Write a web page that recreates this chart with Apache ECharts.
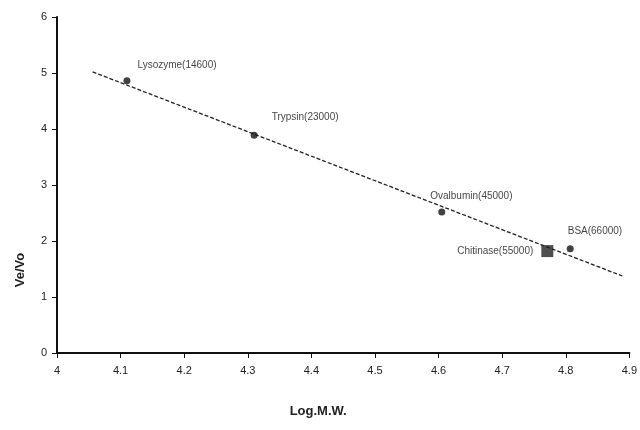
<!DOCTYPE html>
<html>
<head>
<meta charset="utf-8">
<script src="https://cdn.jsdelivr.net/npm/echarts@6/dist/echarts.min.js"></script>
<style>
html,body{margin:0;padding:0;background:#fff;}
#chart{width:640px;height:430px;}
</style>
</head>
<body>
<div id="chart"></div>
<script>
// 标准蛋白
var proteinNames = ["Lysozyme(14600)", "Trypsin(23000)", "Ovalbumin(45000)", "BSA(66000)"];
var logMW = [4.11, 4.31, 4.605, 4.807];
var veVo = [4.86, 3.89, 2.52, 1.86];
// 待测样品
var sampleName = ["Chitinase(55000)"];
var sampleLogMW = [4.771];
var sampleVeVo = [1.82];
// 拟合直线两端
var fitX = [4.056, 4.889];
var fitY = [5.02, 1.375];
var xTicks = [4, 4.1, 4.2, 4.3, 4.4, 4.5, 4.6, 4.7, 4.8, 4.9];

// 标签偏移(仅样式)
var labelOffsets = [[2, -16], [9, -18], [-20, -16], [-11, -18]];

var chart = echarts.init(document.getElementById("chart"));
var font = "Liberation Sans";
var option = {
    animation: false,
    textStyle: {fontFamily: font},
    grid: {left: 57, right: 9, top: 17, bottom: 77},
    xAxis: {
        type: "value",
        min: 4, max: 4.9, interval: 0.1,
        name: "Log.M.W.",
        nameLocation: "middle",
        nameGap: 52,
        nameTextStyle: {color: "#222", fontSize: 13, fontWeight: "bold", padding: [0, 50, 0, 0]},
        axisLine: {lineStyle: {color: "#111", width: 2}},
        axisTick: {lineStyle: {color: "#111"}, length: 5},
        axisLabel: {color: "#222", fontSize: 11, margin: 12,
            formatter: function (v) { return xTicks.indexOf(+v.toFixed(1)) >= 0 ? +v.toFixed(1) : ""; }},
        splitLine: {show: false}
    },
    yAxis: {
        type: "value",
        min: 0, max: 6, interval: 1,
        name: "Ve/Vo",
        nameLocation: "middle",
        nameRotate: 90,
        nameGap: 30,
        nameTextStyle: {color: "#222", fontSize: 13, fontWeight: "bold", padding: [0, 170, 0, 0]},
        axisLine: {lineStyle: {color: "#111", width: 2}},
        axisTick: {lineStyle: {color: "#111"}, length: 5},
        axisLabel: {color: "#222", fontSize: 11, margin: 10},
        splitLine: {show: false}
    },
    series: [
        {
            type: "line",
            data: fitX.map((x, i) => [x, fitY[i]]),
            symbol: "none",
            lineStyle: {color: "#222", width: 1.3, type: [4, 2]},
            z: 1
        },
        {
            type: "scatter",
            data: logMW.map((x, i) => ({
                value: [x, veVo[i]],
                name: proteinNames[i],
                label: {offset: labelOffsets[i]}
            })),
            symbol: "circle",
            symbolSize: 7,
            itemStyle: {color: "#111"},
            label: {
                show: true,
                formatter: "{b}",
                position: "right",
                color: "#111",
                fontSize: 10
            },
            z: 3
        },
        {
            type: "scatter",
            data: sampleLogMW.map((x, i) => ({value: [x, sampleVeVo[i]], name: sampleName[i]})),
            symbol: "rect",
            symbolSize: 12,
            itemStyle: {color: "#222"},
            label: {
                show: true,
                formatter: "{b}",
                position: "left",
                distance: 8,
                color: "#111",
                fontSize: 10
            },
            z: 3
        }
    ]
};
chart.setOption(option);
</script>
</body>
</html>
